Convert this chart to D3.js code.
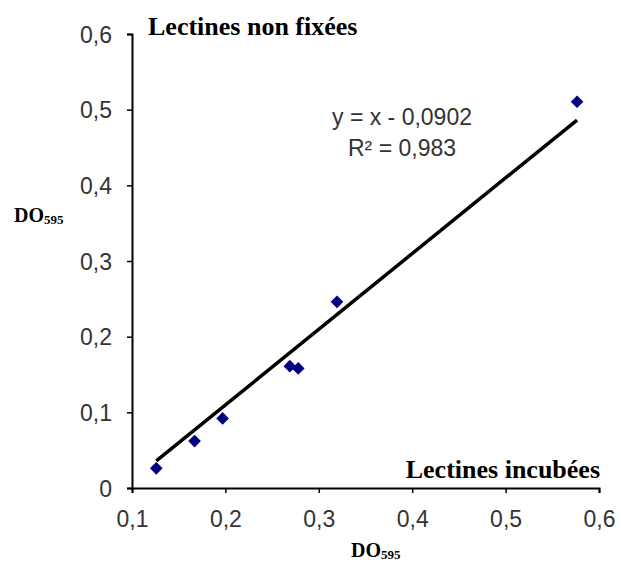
<!DOCTYPE html>
<html><head><meta charset="utf-8">
<script src="https://cdn.jsdelivr.net/npm/d3@7"></script>
<style>body{margin:0;background:#fff}</style>
</head><body>
<svg id="chart" width="621" height="563"></svg>
<script>
const xValues = [0.126, 0.167, 0.197, 0.269, 0.278, 0.3195, 0.5765];
const yValues = [0.026, 0.062, 0.092, 0.161, 0.158, 0.246, 0.5105];
const xTicks = [0.1, 0.2, 0.3, 0.4, 0.5, 0.6];
const yTicks = [0, 0.1, 0.2, 0.3, 0.4, 0.5, 0.6];
const trendSlope = 1;
const trendIntercept = -0.0902;
const equationLines = ["y = x - 0,0902", "R² = 0,983"];
const topTitle = "Lectines non fixées";
const bottomTitle = "Lectines incubées";

const svg = d3.select("#chart");
const m = {left: 132, top: 34};
const W = 467, H = 454;
const g = svg.append("g").attr("transform", `translate(${m.left},${m.top})`);
const x = d3.scaleLinear().domain([0.1, 0.6]).range([0, W]);
const y = d3.scaleLinear().domain([0, 0.6]).range([H, 0]);
const fmt = d => d3.format(".1~f")(d).replace(".", ",");

const xa = g.append("g").attr("transform", `translate(0,${H})`)
  .call(d3.axisBottom(x).tickValues(xTicks).tickFormat(fmt).tickSizeOuter(0).tickSize(5).tickPadding(20));
const ya = g.append("g")
  .call(d3.axisLeft(y).tickValues(yTicks).tickFormat(fmt).tickSizeOuter(0).tickSize(5).tickPadding(15));
[xa, ya].forEach(a => {
  a.select(".domain").attr("stroke", "#000").attr("stroke-width", 2);
  a.selectAll(".tick line").attr("stroke", "#000").attr("stroke-width", 1.5);
  a.selectAll(".tick text").attr("font-family", "Liberation Sans, Arial, sans-serif")
    .attr("font-size", 23).attr("fill", "#333");
});
xa.selectAll(".tick text").attr("dy", "0.62em");
ya.selectAll(".tick text").attr("dy", "0.36em");

// trend line
const x0 = d3.min(xValues), x1 = d3.max(xValues);
g.append("line")
  .attr("x1", x(x0)).attr("y1", y(trendSlope * x0 + trendIntercept))
  .attr("x2", x(x1)).attr("y2", y(trendSlope * x1 + trendIntercept))
  .attr("stroke", "#000").attr("stroke-width", 3.5);

// points
const sym = d3.symbol(d3.symbolSquare, 80);
g.selectAll("path.pt").data(xValues.map((v, i) => [v, yValues[i]])).join("path")
  .attr("class", "pt")
  .attr("d", sym)
  .attr("transform", d => `translate(${x(d[0])},${y(d[1])}) rotate(45)`)
  .attr("fill", "#000080");

// equation
g.selectAll("text.eq").data(equationLines).join("text")
  .attr("class", "eq")
  .attr("x", 402 - m.left).attr("y", (d, i) => 125 - m.top + i * 31)
  .attr("text-anchor", "middle")
  .attr("font-family", "Liberation Sans, Arial, sans-serif")
  .attr("font-size", 23).attr("fill", "#333")
  .text(d => d);

// titles
svg.append("text").attr("x", 148).attr("y", 35)
  .attr("font-family", "Liberation Serif, Times New Roman, serif")
  .attr("font-weight", "bold").attr("font-size", 26).text(topTitle);
svg.append("text").attr("x", 600).attr("y", 478).attr("text-anchor", "end")
  .attr("font-family", "Liberation Serif, Times New Roman, serif")
  .attr("font-weight", "bold").attr("font-size", 26).text(bottomTitle);

function doLabel(px, py) {
  const t = svg.append("text").attr("x", px).attr("y", py)
    .attr("font-family", "Liberation Serif, Times New Roman, serif")
    .attr("font-weight", "bold");
  t.append("tspan").attr("font-size", 20).text("DO");
  t.append("tspan").attr("font-size", 13).attr("dy", 2).text("595");
}
doLabel(14, 222);
doLabel(351, 557);
</script>
</body></html>
